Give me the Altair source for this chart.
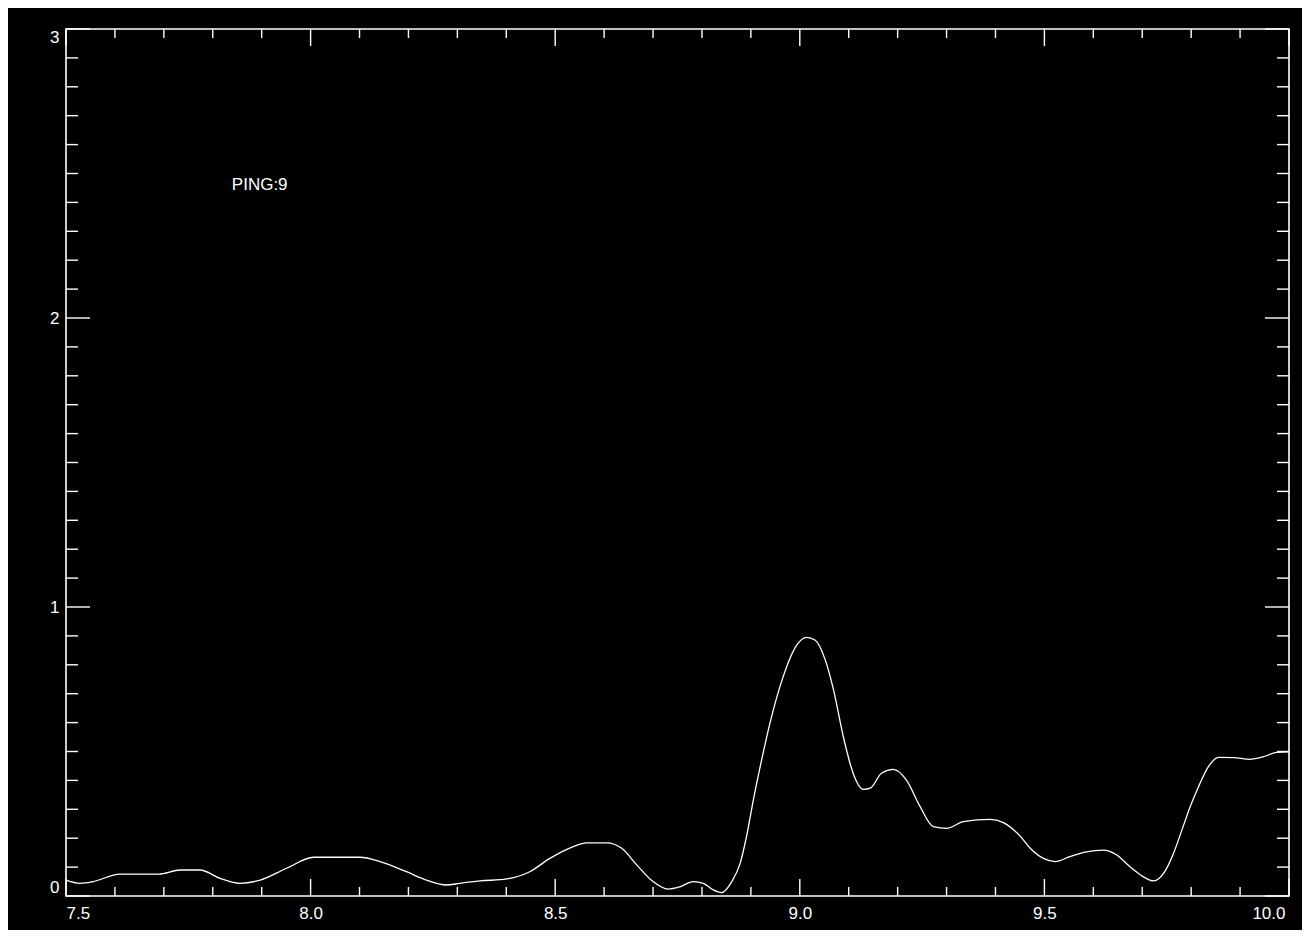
import altair as alt
import pandas as pd

# ---- data ----
xs = [7.500, 7.529, 7.556, 7.610, 7.690, 7.733, 7.774, 7.815, 7.856, 7.897,
      7.951, 8.006, 8.101, 8.142, 8.196, 8.237, 8.278, 8.305, 8.346, 8.401,
      8.448, 8.489, 8.537, 8.564, 8.605, 8.636, 8.667, 8.700, 8.731, 8.755,
      8.782, 8.803, 8.823, 8.840, 8.861, 8.878, 8.891, 8.905, 8.922, 8.939,
      8.966, 8.994, 9.014, 9.031, 9.052, 9.069, 9.089, 9.109, 9.130, 9.144,
      9.167, 9.191, 9.218, 9.246, 9.273, 9.300, 9.334, 9.389, 9.416, 9.450,
      9.471, 9.498, 9.522, 9.552, 9.586, 9.620, 9.648, 9.675, 9.702, 9.723,
      9.746, 9.764, 9.781, 9.798, 9.815, 9.835, 9.856, 9.886, 9.920, 9.948,
      9.975, 10.000]
ys = [0.055, 0.044, 0.050, 0.076, 0.076, 0.090, 0.090, 0.061, 0.044, 0.055,
      0.096, 0.134, 0.134, 0.119, 0.084, 0.055, 0.038, 0.044, 0.052, 0.059,
      0.084, 0.130, 0.171, 0.184, 0.184, 0.165, 0.107, 0.050, 0.024, 0.032,
      0.050, 0.044, 0.021, 0.012, 0.050, 0.113, 0.205, 0.332, 0.471, 0.598,
      0.759, 0.869, 0.895, 0.886, 0.817, 0.713, 0.551, 0.425, 0.369, 0.373,
      0.425, 0.438, 0.401, 0.309, 0.240, 0.234, 0.257, 0.265, 0.254, 0.208,
      0.165, 0.130, 0.119, 0.136, 0.153, 0.159, 0.142, 0.101, 0.067, 0.052,
      0.084, 0.148, 0.228, 0.309, 0.378, 0.447, 0.480, 0.479, 0.473, 0.482,
      0.497, 0.499]

x_major = [7.5, 8.0, 8.5, 9.0, 9.5, 10.0]
x_minor = [7.6, 7.7, 7.8, 7.9, 8.1, 8.2, 8.3, 8.4, 8.6, 8.7, 8.8, 8.9,
           9.1, 9.2, 9.3, 9.4, 9.6, 9.7, 9.8, 9.9]
y_major = [0, 1, 2, 3]
y_minor = [0.1, 0.2, 0.3, 0.4, 0.5, 0.6, 0.7, 0.8, 0.9,
           1.1, 1.2, 1.3, 1.4, 1.5, 1.6, 1.7, 1.8, 1.9,
           2.1, 2.2, 2.3, 2.4, 2.5, 2.6, 2.7, 2.8, 2.9]

label_text = ["PING:9"]
label_x = [7.839]
label_y = [2.46]

W, H = 1223, 867
FG = "#ffffff"
FONT = "Liberation Sans"

xscale = alt.Scale(domain=[7.5, 10.0], nice=False, zero=False)
yscale = alt.Scale(domain=[0, 3], nice=False, zero=False)

curve = pd.DataFrame({"x": xs, "y": ys})

line = alt.Chart(curve).mark_line(color=FG, strokeWidth=1.3, interpolate="monotone").encode(
    x=alt.X("x:Q", scale=xscale, title=None,
            axis=alt.Axis(values=x_major, format=".1f", grid=False, ticks=False,
                          domain=False, tickSize=0, labelPadding=9,
                          labelOffset=alt.ExprRef(expr="datum.value >= 10 ? -4 : 0"),
                          labelColor=FG, labelFontSize=17, labelFont=FONT)),
    y=alt.Y("y:Q", scale=yscale, title=None,
            axis=alt.Axis(values=y_major, format="d", grid=False, ticks=False,
                          domain=False, tickSize=0, labelPadding=7, labelFlush=True,
                          labelColor=FG, labelFontSize=17, labelFont=FONT)),
)

xmaj = pd.DataFrame({"v": x_major})
xmin = pd.DataFrame({"v": x_minor})
ymaj = pd.DataFrame({"v": y_major})
ymin = pd.DataFrame({"v": y_minor})


def xticks(df, length):
    bot = alt.Chart(df).mark_rule(color=FG, strokeWidth=1.4).encode(
        x=alt.X("v:Q", scale=xscale), y=alt.value(H), y2=alt.value(H - length))
    top = alt.Chart(df).mark_rule(color=FG, strokeWidth=1.4).encode(
        x=alt.X("v:Q", scale=xscale), y=alt.value(0), y2=alt.value(length))
    return [bot, top]


def yticks(df, length):
    left = alt.Chart(df).mark_rule(color=FG, strokeWidth=1.4).encode(
        y=alt.Y("v:Q", scale=yscale), x=alt.value(0), x2=alt.value(length))
    right = alt.Chart(df).mark_rule(color=FG, strokeWidth=1.4).encode(
        y=alt.Y("v:Q", scale=yscale), x=alt.value(W), x2=alt.value(W - length))
    return [left, right]


lbl = alt.Chart(pd.DataFrame({"t": label_text, "x": label_x, "y": label_y})).mark_text(
    color=FG, fontSize=17, font=FONT, align="left", baseline="middle"
).encode(x=alt.X("x:Q", scale=xscale), y=alt.Y("y:Q", scale=yscale), text="t:N")

layers = [line] + xticks(xmaj, 17) + xticks(xmin, 9) + yticks(ymaj, 24) + yticks(ymin, 12) + [lbl]

chart = alt.layer(*layers).properties(
    width=W, height=H,
    autosize=alt.AutoSizeParams(type="none"),
    padding={"left": 58, "top": 21, "right": 13, "bottom": 34},
    background="#000000",
).configure_view(stroke=FG, strokeWidth=1.6)

chart.save("out.html", embed_options={"renderer": "svg", "actions": False})
